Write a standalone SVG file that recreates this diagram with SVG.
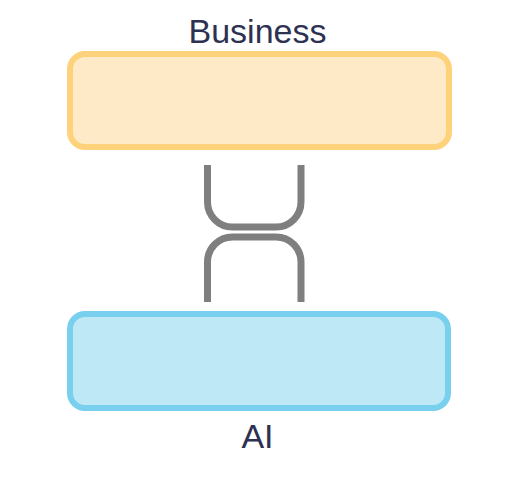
<svg xmlns="http://www.w3.org/2000/svg" width="520" height="490" viewBox="0 0 520 490">
<style>
.lbl{font-family:"Liberation Sans",Arial,sans-serif;font-size:34px;fill:#2d3152;text-anchor:middle}
.conn{fill:none;stroke:#7f7f7f;stroke-width:7}
</style>
<rect width="520" height="490" fill="#ffffff"/>
<g id="business">
<rect x="70" y="54" width="379" height="93" rx="15" fill="#feeac6" stroke="#fdd27b" stroke-width="6"/>
<text class="lbl" x="257.5" y="43">Business</text>
</g>
<g id="ai">
<rect x="70" y="314" width="378" height="94" rx="15" fill="#bee8f6" stroke="#78d0ee" stroke-width="6"/>
<text class="lbl" x="257.5" y="448">AI</text>
</g>
<g id="connectors">
<path class="conn" d="M207.5 165 V202 A25 25 0 0 0 232.5 227 H276 A25 25 0 0 0 301 202 V165"/>
<path class="conn" d="M207.5 302 V262 A25 25 0 0 1 232.5 237 H276 A25 25 0 0 1 301 262 V302"/>
</g>
</svg>
